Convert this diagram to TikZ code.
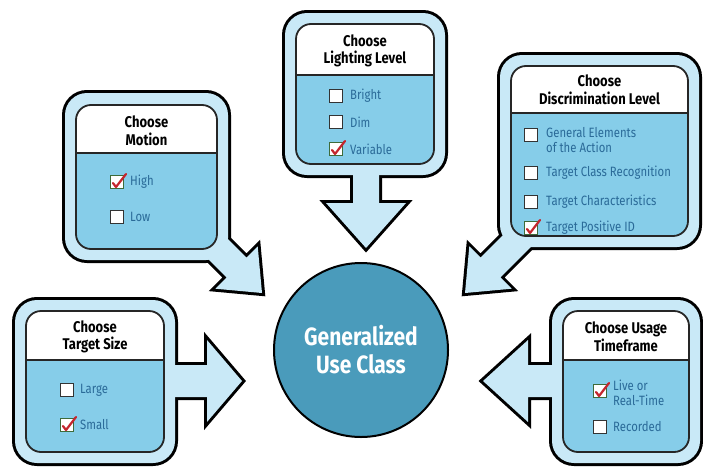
\documentclass[tikz,border=0pt]{standalone}
\usepackage{fontspec}
\newfontfamily\cf{Fira Sans}[FakeStretch=0.84]
\definecolor{framec}{HTML}{C9E9F7}
\definecolor{bodyc}{HTML}{86CDE9}
\definecolor{circc}{HTML}{4A9BBB}
\definecolor{itemc}{HTML}{2A6A98}
\definecolor{checkc}{HTML}{C4262E}
\definecolor{cbgreen}{HTML}{3E6B3A}
\tikzset{
  frameline/.style={draw=black, line width=6pt},
  framefill/.style={fill=framec},
  innerline/.style={draw=black!85, line width=1.8pt},
  hdr/.style={font=\cf\bfseries\fontsize{15.5}{17.5}\selectfont, align=center, text=black, inner sep=0pt},
  item/.style={font=\cf\fontsize{13.5}{14.5}\selectfont, align=left, text=itemc, inner sep=0pt, anchor=west},
  cb/.style={draw=black!80, fill=white, line width=1.5pt, minimum size=13pt, inner sep=0pt},
  cbon/.style={draw=cbgreen, fill=white, line width=1.6pt, minimum size=13pt, inner sep=0pt},
  tick/.style={draw=checkc, line width=2.2pt, line join=round, line cap=round}
}
\newcommand{\innerbox}[5]{% x1 y1 x2 y2 divider
  \fill[white, rounded corners=15pt] (#1,#2) rectangle (#3,#4);
  \begin{scope}
    \clip[rounded corners=15pt] (#1,#2) rectangle (#3,#4);
    \fill[bodyc] (#1,#5) rectangle (#3,#4);
  \end{scope}
  \draw[black!85, line width=1.3pt] (#1,#5) -- (#3,#5);
  \draw[innerline, rounded corners=15pt] (#1,#2) rectangle (#3,#4);
}
\newcommand{\tickmark}[1]{%
  \draw[tick] ([shift={(-4pt,-1pt)}]#1.center) -- ([shift={(-1pt,-5pt)}]#1.center) -- ([shift={(9pt,8pt)}]#1.center);
}
\begin{document}
\begin{tikzpicture}[x=1pt,y=-1pt]
\useasboundingbox (0,0) rectangle (703,466);
\fill[white] (0,0) rectangle (703,466);

% ---------- outer frames with arrows (stroke, then fill) ----------
\foreach \st in {frameline,framefill}{
  % motion
  \path[\st, rounded corners=22pt] (65,93) rectangle (228,260);
  \path[\st] (201.2,212.4) -- (246.4,257.6) -- (257.7,246.3) -- (262,293) -- (215.3,288.7) -- (226.6,277.4) -- (181.4,232.2) -- cycle;
  % lighting
  \path[\st, rounded corners=22pt] (285,13) rectangle (445,175);
  \path[\st] (353,150) -- (379,150) -- (379,203) -- (406,203) -- (366,248) -- (326,203) -- (353,203) -- cycle;
  % discrimination
  \path[\st, rounded corners=22pt] (500,55) rectangle (699,247);
  \path[\st] (545.6,232.2) -- (500.4,277.4) -- (511.7,288.7) -- (465,293) -- (469.3,246.3) -- (480.6,257.6) -- (525.8,212.4) -- cycle;
  % target size
  \path[\st, rounded corners=22pt] (15,300) rectangle (175,463);
  \path[\st] (150,365) -- (207,365) -- (207,340) -- (242,381) -- (207,422) -- (207,397) -- (150,397) -- cycle;
  % usage
  \path[\st, rounded corners=22pt] (552,300) rectangle (700,463);
  \path[\st] (580,365) -- (528,365) -- (528,340) -- (483,381) -- (528,422) -- (528,397) -- (580,397) -- cycle;
}

% ---------- inner boxes ----------
\innerbox{76}{105}{217}{249}{153}
\innerbox{296}{24}{434}{164}{75}
\innerbox{511}{66}{688}{236}{113}
\innerbox{26}{311}{164}{452}{360}
\innerbox{563}{311}{689}{452}{360}

% ---------- motion ----------
\node[hdr] (mh) at (146.5,131) {Choose\\Motion};
\node[cbon] (m1) at (117,182) {};
\node[item] (m1t) at (130,182) {High};
\node[cb] (m2) at (117,217) {};
\node[item] (m2t) at (130,217) {Low};
\tickmark{m1}

% ---------- lighting ----------
\node[hdr] (lh) at (365,51) {Choose\\Lighting Level};
\node[cb] (l1) at (336,96) {};
\node[item] (l1t) at (350,96) {Bright};
\node[cb] (l2) at (336,122) {};
\node[item] (l2t) at (350,122) {Dim};
\node[cbon] (l3) at (336,149) {};
\node[item] (l3t) at (350,149) {Variable};
\tickmark{l3}

% ---------- discrimination ----------
\node[hdr] (dh) at (599.5,90) {Choose\\Discrimination Level};
\node[cb] (d1) at (531,135) {};
\node[item] (d1t) at (546,140) {General Elements\\of the Action};
\node[cb] (d2) at (531,173) {};
\node[item] (d2t) at (546,173) {Target Class Recognition};
\node[cb] (d3) at (531,202) {};
\node[item] (d3t) at (546,202) {Target Characteristics};
\node[cbon] (d4) at (531,228) {};
\node[item] (d4t) at (546,228) {Target Positive ID};
\tickmark{d4}

% ---------- target size ----------
\node[hdr] (th) at (95,337) {Choose\\Target Size};
\node[cb] (t1) at (67,390) {};
\node[item] (t1t) at (80,390) {Large};
\node[cbon] (t2) at (67,425) {};
\node[item] (t2t) at (80,425) {Small};
\tickmark{t2}

% ---------- usage ----------
\node[hdr] (uh) at (626,337) {Choose Usage\\Timeframe};
\node[cbon] (u1) at (600,391) {};
\node[item] (u1t) at (613,393) {Live or\\Real-Time};
\node[cb] (u2) at (600,427) {};
\node[item] (u2t) at (613,427) {Recorded};
\tickmark{u1}

% ---------- centre ----------
\node[circle, draw=black, line width=2pt, fill=circc, minimum size=174pt, inner sep=0pt,
      font=\cf\bfseries\fontsize{25}{28}\selectfont, text=white, align=center] (guc) at (361,350) {Generalized\\Use Class};
\end{tikzpicture}
\end{document}
